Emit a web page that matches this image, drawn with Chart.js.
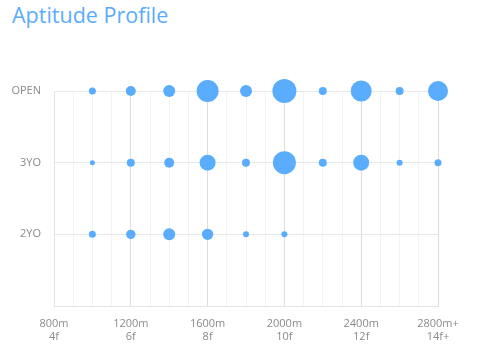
<!DOCTYPE html>
<html>
<head>
<meta charset="utf-8">
<script src="https://cdn.jsdelivr.net/npm/chart.js@4/dist/chart.umd.min.js"></script>
<style>
html,body{margin:0;padding:0;background:#fff;}
#wrap{position:relative;width:477px;height:356px;}
#title{position:absolute;left:12px;top:1px;font-family:"Open Sans",sans-serif;font-size:21.5px;color:#5aacfc;line-height:28px;}
canvas{position:absolute;left:0;top:0;}
</style>
</head>
<body>
<div id="wrap">
<div id="title">Aptitude Profile</div>
<canvas id="c" width="477" height="356"></canvas>
</div>
<script>
const distances = [1000, 1200, 1400, 1600, 1800, 2000, 2200, 2400, 2600, 2800];
const categories = ['2YO', '3YO', 'OPEN'];
const openSizes = [3.5, 5, 6, 11, 6, 12, 4, 10.5, 4, 10];
const threeYoSizes = [2.5, 4, 5, 8, 4, 11.5, 4, 8, 3, 3.5];
const twoYoSizes = [3.5, 4.7, 6, 5.7, 3, 3];
const xTickLabels = {
  800: ['800m', '4f'],
  1200: ['1200m', '6f'],
  1600: ['1600m', '8f'],
  2000: ['2000m', '10f'],
  2400: ['2400m', '12f'],
  2800: ['2800m+', '14f+']
};

function rows(sizes, level) {
  return sizes.map((r, i) => ({ x: distances[i], y: level, r: r }));
}
const points = [].concat(
  rows(openSizes, 3),
  rows(threeYoSizes, 2),
  rows(twoYoSizes, 1)
);

const tickFont = { family: '"Open Sans", sans-serif', size: 11 };
new Chart(document.getElementById('c'), {
  type: 'bubble',
  data: {
    datasets: [{
      data: points,
      backgroundColor: '#5aacfc',
      borderWidth: 0,
      hoverBorderWidth: 0
    }]
  },
  options: {
    responsive: false,
    animation: false,
    clip: false,
    layout: { padding: { top: 91, right: 39, left: 0, bottom: 0 } },
    plugins: { legend: { display: false }, tooltip: { enabled: false } },
    scales: {
      x: {
        type: 'linear',
        min: 800, max: 2800,
        afterFit: s => { s.height = 50; },
        border: { color: '#e4e4e4', width: 1 },
        grid: {
          drawTicks: false,
          color: c => (c.tick && c.tick.value % 400 === 0) ? '#dedede' : '#f3f3f3'
        },
        ticks: {
          stepSize: 100,
          autoSkip: false,
          maxRotation: 0,
          padding: 11,
          color: '#8a8a8a',
          font: tickFont,
          callback: v => xTickLabels[v] || ''
        }
      },
      y: {
        type: 'linear',
        min: 0, max: 3,
        afterFit: s => { s.width = 54; },
        border: { color: '#e4e4e4', width: 1 },
        grid: {
          drawTicks: false,
          color: '#e8e8e8'
        },
        ticks: {
          stepSize: 1,
          padding: 13,
          color: '#8a8a8a',
          font: tickFont,
          callback: v => v >= 1 ? categories[v - 1] : null
        }
      }
    }
  }
});
</script>
</body>
</html>
